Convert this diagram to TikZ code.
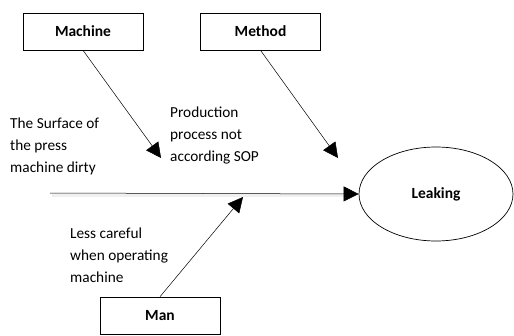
\documentclass[tikz,border=0pt]{standalone}
\usepackage{fontspec}
\setmainfont{Carlito}
\usetikzlibrary{arrows.meta,shapes.geometric}

\begin{document}
\begin{tikzpicture}[
    x=1pt, y=-1pt,
    >={Triangle[length=15pt,width=15pt]},
    causebox/.style={draw, line width=0.6pt, minimum width=120pt, minimum height=37pt,
      font=\fontsize{15.5}{18}\selectfont\bfseries, inner sep=0pt},
    effect/.style={ellipse, draw, line width=0.7pt, minimum width=154pt, minimum height=94pt,
      font=\fontsize{15.5}{18}\selectfont\bfseries, inner sep=0pt},
    note/.style={align=left, anchor=north west, inner sep=0pt,
      font=\fontsize{15.3}{22}\selectfont},
    link/.style={->, line width=0.5pt}
  ]
  \useasboundingbox (0,0) rectangle (514,335);

  % Causes
  \node[causebox] (machine) at (83,31.5) {Machine};
  \node[causebox] (method) at (260.5,31.5) {Method};
  \node[causebox] (man) at (160,315.5) {Man};

  % Effect
  \node[effect] (leaking) at (436,194) {Leaking};

  % Arrow ends
  \coordinate (machineend) at (161,158);
  \coordinate (methodend) at (338,158);
  \coordinate (spinestart) at (50,193);
  \coordinate (manend) at (243,197);

  % Spine
  \draw[line width=3pt, black!6] (52,195.5) -- (344,195.5);
  \draw[link] (spinestart) -- (leaking.west);
  \draw[link] (machine.south) -- (machineend);
  \draw[link] (method.south) -- (methodend);
  \draw[link] (man.north) -- (manend);

  % Notes
  \node[note] (surface) at (10,118) {The Surface of\\the press\\machine dirty};
  \node[note] (process) at (170,107) {Production\\process not\\according SOP};
  \node[note] (careful) at (70,228) {Less careful\\when operating\\machine};
\end{tikzpicture}
\end{document}
